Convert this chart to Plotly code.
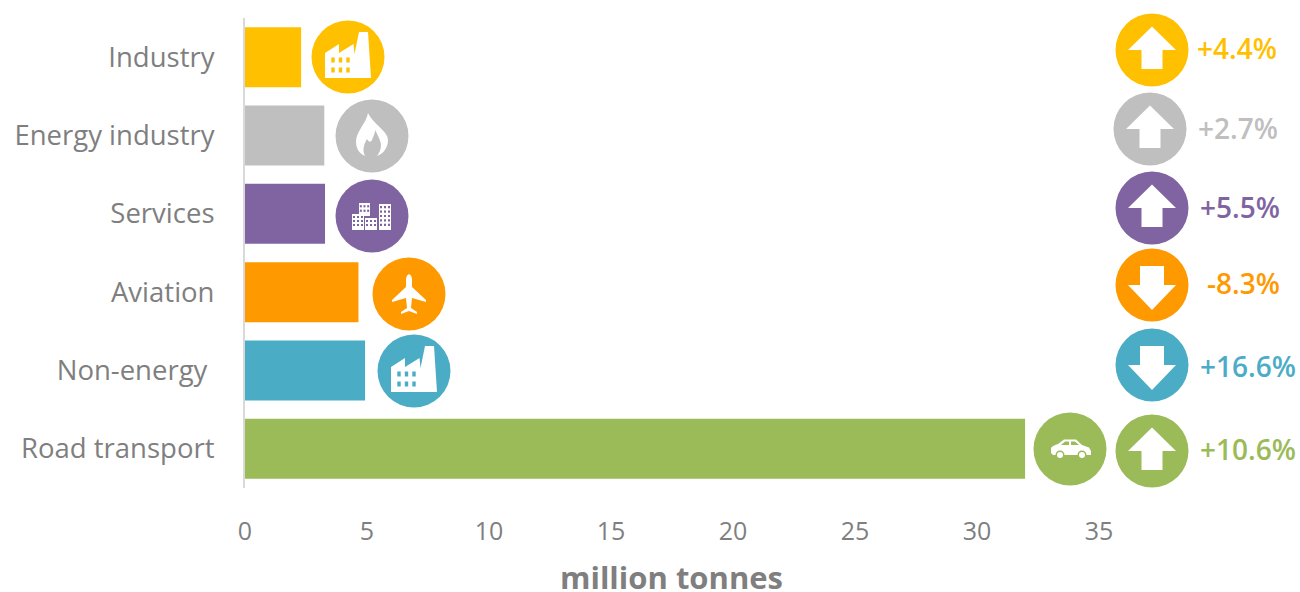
import plotly.graph_objects as go

categories = ["Industry", "Energy industry", "Services", "Aviation", "Non-energy\u00a0", "Road transport"]
values = [2.3, 3.25, 3.28, 4.65, 4.92, 31.97]
changes = ["+4.4%", "+2.7%", "+5.5%", "-8.3%", "+16.6%", "+10.6%"]
directions = ["up", "up", "up", "down", "down", "up"]
icons = ["factory", "flame", "city", "plane", "factory", "car"]
colors = ["#FFC000", "#BFBFBF", "#8064A2", "#FF9900", "#4BACC6", "#9BBB59"]
x_title = "million tonnes"

W, H = 1300, 592
L, R, T, B = 245, 1099, 18, 488
FONT = "Open Sans"
TXT = "#7F7F7F"

icon_centres = [(348, 57), (372, 136), (372, 216), (409, 294), (414, 371), (1070, 449)]
arrow_centres = [(1152, 50), (1150, 129), (1152, 208), (1152, 285), (1152, 365), (1152, 451)]
label_centres = [(1237, 48), (1238, 128), (1240, 207), (1243, 283), (1248, 366), (1248, 449)]
title_centre = (671, 577)
RAD = 36.5

shapes = []


def fx(px):
    return (px - L) / (R - L)


def fy(py):
    return 1 - (py - T) / (B - T)


def poly(pts):
    return "M" + " L".join(f"{x},{y}" for x, y in pts) + " Z"


def rect(x0, y0, x1, y1):
    return poly([(x0, y0), (x1, y0), (x1, y1), (x0, y1)])


def add_path(c, d, col):
    shapes.append(dict(type="path", xref="paper", yref="paper", xsizemode="pixel", ysizemode="pixel",
                       xanchor=fx(c[0]), yanchor=fy(c[1]), path=d, fillcolor=col, line=dict(width=0), layer="above"))


def add_disc(c, r, col):
    shapes.append(dict(type="circle", xref="paper", yref="paper", xsizemode="pixel", ysizemode="pixel",
                       xanchor=fx(c[0]), yanchor=fy(c[1]), x0=-r, x1=r, y0=-r, y1=r,
                       fillcolor=col, line=dict(width=0), layer="above"))


def factory(c, col):
    add_path(c, poly([(-23, -21), (-23, 4), (-9, 13), (-9, 4), (5.5, 13), (6.5, 3), (11, 25),
                      (20, 25), (23, -21)]), "#FFFFFF")
    for wy in (-3, -13):
        for wx in (-15, -7.5, 0):
            add_path(c, rect(wx - 1.7, wy - 2.5, wx + 1.7, wy + 2.5), col)


def flame(c, col):
    add_path(c, "M-4,23 C-6,12 -16,5 -16,-6 C-16,-13 -12,-18 -7,-20 C-10,-14 -8,-8 -5,-3 "
                "C-3,-6 -2,-7 0,-4 C2,1 3,3 3,6 C6,1 9,-6 9,-9 C9,-14 7,-17 5,-20 "
                "C11,-18 16,-12 16,-4 C16,5 2,11 -4,23 Z", "#FFFFFF")


def city(c, col):
    blocks = [(-13, 0, -2, 13), (-20, -14, -8, 2), (-7, -14, 5, -2), (7, -14, 19, 12)]
    for b in blocks:
        add_path(c, rect(*b), "#FFFFFF")
    for x0, y0, x1, y1 in blocks:
        nx, ny = 3, max(2, int((y1 - y0) / 5))
        for i in range(nx):
            for j in range(ny):
                wx = x0 + (x1 - x0) * (i + 0.5) / nx
                wy = y0 + 3 + (y1 - y0 - 4) * (j + 0.5) / ny
                add_path(c, rect(wx - 1, wy - 1.1, wx + 1, wy + 1.1), col)


def plane(c, col):
    add_path(c, poly([(0, 20), (2, 18.5), (3, 15), (3, 7), (17, -6), (17, -8), (3, -4), (2, -14), (8, -18),
                      (8, -20), (0, -17), (-8, -20), (-8, -18), (-2, -14), (-3, -4), (-17, -8), (-17, -6),
                      (-3, 7), (-3, 15), (-2, 18.5)]), "#FFFFFF")


def car(c, col):
    add_path(c, "M-19,-4 L-19,1 C-18,3 -15,4 -12,5 L-6,9.5 L6,9.5 L12,4 L19,1.5 L21,-2 L21,-6 L-17,-6 Z", "#FFFFFF")
    add_path(c, poly([(-9, 4), (-5, 7.5), (-1, 7.5), (-1, 4)]), col)
    add_path(c, poly([(1, 4), (1, 7.5), (5, 7.5), (9, 4)]), col)
    for wx in (-10, 12):
        add_disc((c[0] + wx, c[1] + 6), 4.5, col)
        add_disc((c[0] + wx, c[1] + 6), 3, "#FFFFFF")


ICON_DRAW = dict(factory=factory, flame=flame, city=city, plane=plane, car=car)

for name, col, c in zip(icons, colors, icon_centres):
    add_disc(c, RAD, col)
    ICON_DRAW[name](c, col)

for d, col, c in zip(directions, colors, arrow_centres):
    add_disc(c, RAD, col)
    if d == "up":
        pts = [(0, 23.5), (24, 0), (10.5, 0), (10.5, -19), (-10.5, -19), (-10.5, 0), (-24, 0)]
    else:
        pts = [(0, -25), (24, 0), (12, 0), (12, 19), (-12, 19), (-12, 0), (-24, 0)]
    add_path(c, poly(pts), "#FFFFFF")

annotations = [
    dict(text=t, x=fx(c[0]), y=fy(c[1]), xref="paper", yref="paper", showarrow=False,
         xanchor="center", yanchor="middle", font=dict(family=FONT, size=28, color=col, weight=600))
    for t, c, col in zip(changes, label_centres, colors)
]
annotations.append(dict(text=x_title, x=fx(title_centre[0]), y=fy(title_centre[1]), xref="paper", yref="paper",
                        showarrow=False, xanchor="center", yanchor="middle",
                        font=dict(family=FONT, size=31, color=TXT, weight=700)))

fig = go.Figure(go.Bar(y=categories, x=values, orientation="h", marker=dict(color=colors, line=dict(width=0)),
                       hoverinfo="x+y"))
fig.update_layout(
    width=W, height=H, margin=dict(l=L, r=W - R, t=T, b=H - B, autoexpand=False),
    paper_bgcolor="#FFFFFF", plot_bgcolor="#FFFFFF", showlegend=False, bargap=0.234,
    font=dict(family=FONT, color=TXT), shapes=shapes, annotations=annotations,
    xaxis=dict(range=[0, 35], dtick=5, showgrid=False, zeroline=False, showline=False, ticks="",
               tickfont=dict(size=25, color=TXT), ticklabelstandoff=26),
    yaxis=dict(type="category", autorange="reversed", showgrid=False, zeroline=False, showline=True,
               linecolor="#D9D9D9", linewidth=2, ticks="", tickfont=dict(size=27.5, color=TXT),
               ticklabelstandoff=23),
)
fig.write_html("out.html", config=dict(displayModeBar=False),
               post_script="document.body.style.margin='0';document.documentElement.style.overflow='hidden';")
